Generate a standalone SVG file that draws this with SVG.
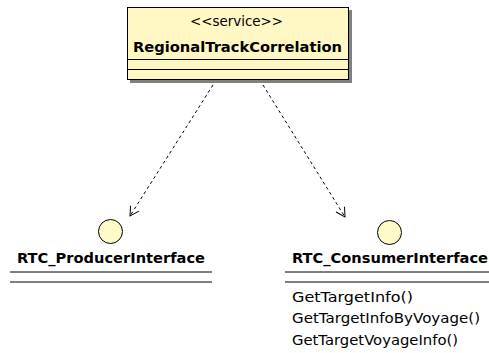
<svg xmlns="http://www.w3.org/2000/svg" width="489" height="353" viewBox="0 0 489 353">
<style>
.t{font-family:"DejaVu Sans","Liberation Sans",Arial,sans-serif;font-size:14px;fill:#000}
.b{font-weight:bold}
.ln{stroke:#000;stroke-width:1;fill:none}
.dash{stroke:#000;stroke-width:1;fill:none;stroke-dasharray:3,3}
.ic{fill:#FFFBC8;stroke:#000;stroke-width:1}
</style>
<defs>
<marker id="open" markerWidth="12" markerHeight="12" refX="10" refY="6" orient="auto" markerUnits="userSpaceOnUse">
<path d="M1,1 L10,6 L1,11" fill="none" stroke="#000" stroke-width="1"/>
</marker>
</defs>
<rect width="489" height="353" fill="#fff"/>
<g id="RegionalTrackCorrelation">
<rect x="130" y="10" width="222" height="73" fill="#808080"/>
<rect x="127.5" y="7.5" width="221" height="72" fill="#FFF8C4" stroke="#000"/>
<line class="ln" x1="127.5" y1="59.5" x2="348.5" y2="59.5"/>
<line class="ln" x1="127.5" y1="69.5" x2="348.5" y2="69.5"/>
<text class="t" x="190" y="26" textLength="93" lengthAdjust="spacingAndGlyphs">&lt;&lt;service&gt;&gt;</text>
<text class="t b" x="133" y="52" textLength="209" lengthAdjust="spacingAndGlyphs">RegionalTrackCorrelation</text>
</g>
<g id="RTC_ProducerInterface">
<circle class="ic" cx="110.5" cy="231.5" r="12"/>
<text class="t b" x="17" y="263" textLength="188" lengthAdjust="spacingAndGlyphs">RTC_ProducerInterface</text>
<line class="ln" x1="10" y1="272" x2="212" y2="272"/>
<line class="ln" x1="10" y1="282" x2="212" y2="282"/>
</g>
<g id="RTC_ConsumerInterface">
<circle class="ic" cx="389.5" cy="232.5" r="12"/>
<text class="t b" x="292" y="263" textLength="196" lengthAdjust="spacingAndGlyphs">RTC_ConsumerInterface</text>
<line class="ln" x1="285" y1="272" x2="489" y2="272"/>
<line class="ln" x1="285" y1="282" x2="489" y2="282"/>
<text class="t" x="292" y="302" textLength="121" lengthAdjust="spacingAndGlyphs">GetTargetInfo()</text>
<text class="t" x="292" y="323" textLength="188" lengthAdjust="spacingAndGlyphs">GetTargetInfoByVoyage()</text>
<text class="t" x="292" y="345" textLength="166" lengthAdjust="spacingAndGlyphs">GetTargetVoyageInfo()</text>
</g>
<g id="connectors">
<line class="dash" x1="213" y1="85" x2="130" y2="216" marker-end="url(#open)"/>
<line class="dash" x1="263" y1="85" x2="345" y2="217" marker-end="url(#open)"/>
</g>
</svg>
